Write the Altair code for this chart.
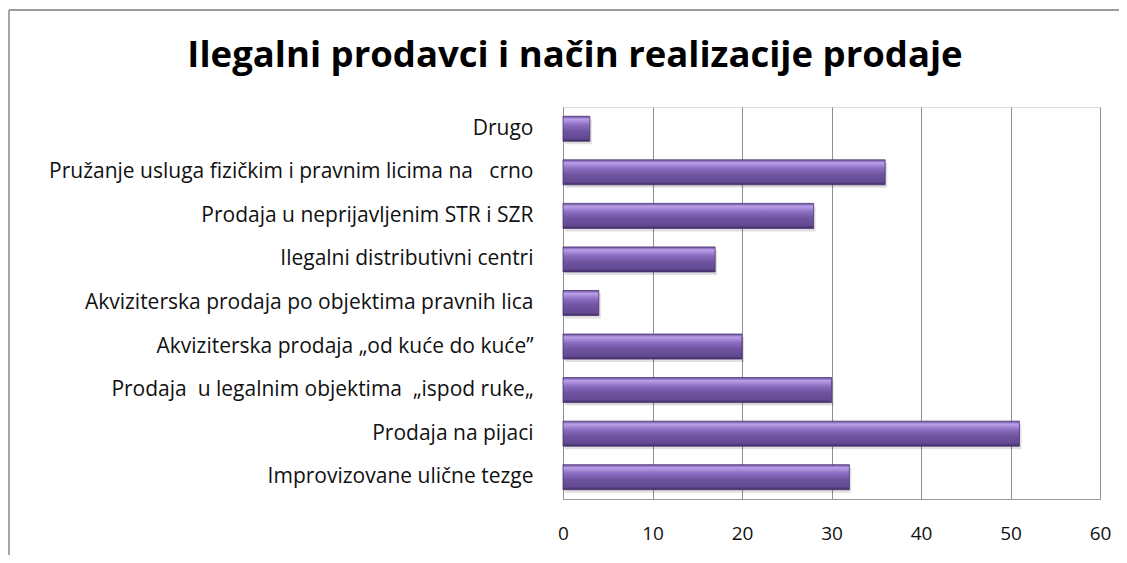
import altair as alt
import pandas as pd

title_text = "Ilegalni prodavci i način realizacije prodaje"
categories = [
    "Drugo",
    "Pružanje usluga fizičkim i pravnim licima na\u00a0\u00a0\u00a0crno",
    "Prodaja u neprijavljenim STR i SZR",
    "Ilegalni distributivni centri",
    "Akviziterska prodaja po objektima pravnih lica",
    "Akviziterska prodaja „od kuće do kuće”",
    "Prodaja\u00a0 u legalnim objektima\u00a0 „ispod ruke„",
    "Prodaja na pijaci",
    "Improvizovane ulične tezge",
]
values = [3, 36, 28, 17, 4, 20, 30, 51, 32]
x_ticks = [0, 10, 20, 30, 40, 50, 60]

df = pd.DataFrame({"category": categories, "value": values})
one_df = pd.DataFrame({"title": [title_text]})

W, H = 537, 392
PAD_R = 19
FONT = "Open Sans"

x_enc = alt.X(
    "value:Q",
    scale=alt.Scale(domain=[0, 60], nice=False),
    axis=alt.Axis(
        values=x_ticks, grid=True, gridColor="#8f8f8f", gridWidth=1,
        domainColor="#9a9a9a", ticks=False, labelPadding=25,
        labelFontSize=19, labelFont=FONT, labelColor="#111111",
        title=None, labelFlush=False,
    ),
)
y_enc = alt.Y(
    "category:N", sort=None,
    axis=alt.Axis(
        title=None, ticks=False, domainColor="#8f8f8f", labelPadding=30,
        labelFontSize=21, labelFont=FONT, labelColor="#111111", labelLimit=700,
    ),
)

grad = alt.Gradient(
    gradient="linear", x1=0, y1=0, x2=0, y2=1,
    stops=[
        alt.GradientStop(offset=0, color="#6a50a0"),
        alt.GradientStop(offset=0.12, color="#bb9fe8"),
        alt.GradientStop(offset=0.35, color="#8a6cc0"),
        alt.GradientStop(offset=0.6, color="#6f539f"),
        alt.GradientStop(offset=0.88, color="#634a93"),
        alt.GradientStop(offset=1, color="#3f2c63"),
    ],
)

shadow = alt.Chart(df).mark_bar(size=25, color="#000000", opacity=0.12, xOffset=2, yOffset=3).encode(
    x=x_enc, y=y_enc
)
bars = alt.Chart(df).mark_bar(size=25, color=grad, stroke="#4a3470", strokeWidth=0.8).encode(
    x=x_enc, y=y_enc
)
frame_top = alt.Chart(one_df).mark_rule(stroke="#9c9c9c", strokeWidth=1.8).encode(
    x=alt.value(-554), x2=alt.value(W + PAD_R), y=alt.value(-97)
)
frame_left = alt.Chart(one_df).mark_rule(stroke="#9c9c9c", strokeWidth=1.8).encode(
    x=alt.value(-554), y=alt.value(-97), y2=alt.value(H + 56)
)
title = alt.Chart(one_df).mark_text(
    font=FONT, fontSize=36.5, fontWeight="bold", color="#000000",
    align="center", baseline="alphabetic",
).encode(text="title:N", x=alt.value(12), y=alt.value(-40))

chart = alt.layer(frame_top, frame_left, shadow, bars, title).properties(
    width=W, height=H,
    autosize=alt.AutoSizeParams(type="none"),
    padding={"left": 555, "top": 99, "right": PAD_R, "bottom": 56},
).configure_view(stroke=None).configure(background="white")

chart.save("out.html", embed_options={"renderer": "svg", "actions": False})
